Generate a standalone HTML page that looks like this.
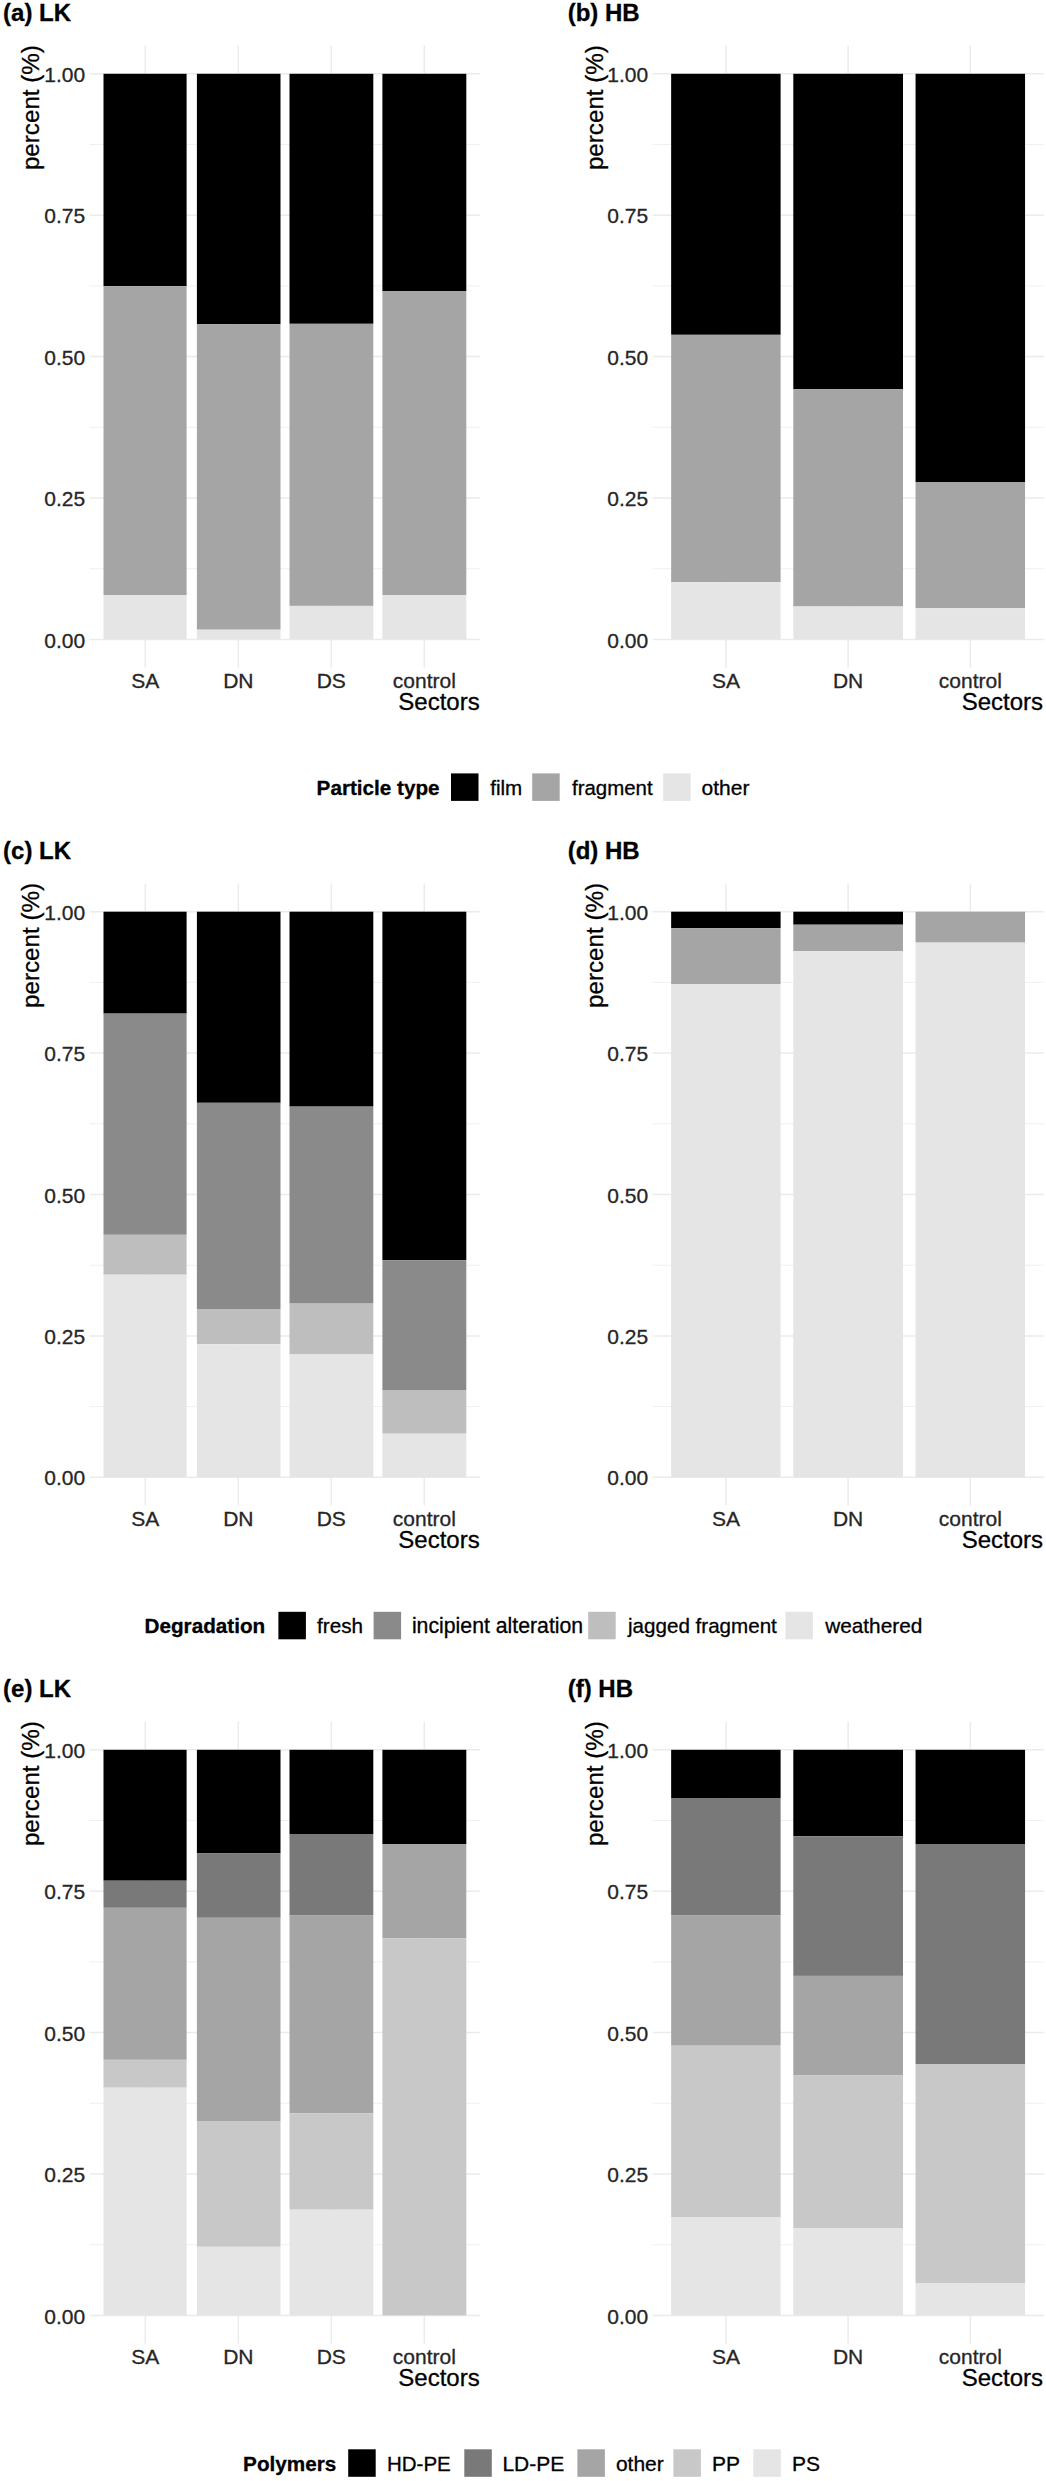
<!DOCTYPE html>
<html lang="en"><head><meta charset="utf-8"><title>Particle type, degradation and polymers by sector</title>
<style>html,body{margin:0;padding:0;background:#fff}body{width:1046px;height:2481px;overflow:hidden}svg{display:block}text{stroke:#000;stroke-width:.3px}text.t{stroke:#262626}</style>
</head><body>
<svg width="1046" height="2481" viewBox="0 0 1046 2481" font-family='"Liberation Sans", sans-serif'>
<rect width="1046" height="2481" fill="#ffffff"/>
<g transform="translate(0,0.0)">
<path d="M89.6 568.70H480.3M89.6 427.30H480.3M89.6 285.90H480.3M89.6 144.50H480.3" stroke="#ebebeb" stroke-width="0.75" fill="none"/>
<path d="M89.6 639.40H480.3M89.6 498.00H480.3M89.6 356.60H480.3M89.6 215.20H480.3M89.6 73.80H480.3M145.30 45.6V667.6M238.30 45.6V667.6M331.30 45.6V667.6M424.30 45.6V667.6" stroke="#ebebeb" stroke-width="1.5" fill="none"/>
<rect x="103.50" y="73.80" width="83.1" height="212.30" fill="#000000"/>
<rect x="103.50" y="286.10" width="83.1" height="309.10" fill="#a5a5a5"/>
<rect x="103.50" y="595.20" width="83.1" height="44.20" fill="#e5e5e5"/>
<rect x="196.90" y="73.80" width="83.6" height="250.50" fill="#000000"/>
<rect x="196.90" y="324.30" width="83.6" height="305.40" fill="#a5a5a5"/>
<rect x="196.90" y="629.70" width="83.6" height="9.70" fill="#e5e5e5"/>
<rect x="289.50" y="73.80" width="83.8" height="250.00" fill="#000000"/>
<rect x="289.50" y="323.80" width="83.8" height="282.10" fill="#a5a5a5"/>
<rect x="289.50" y="605.90" width="83.8" height="33.50" fill="#e5e5e5"/>
<rect x="382.40" y="73.80" width="83.9" height="217.20" fill="#000000"/>
<rect x="382.40" y="291.00" width="83.9" height="304.20" fill="#a5a5a5"/>
<rect x="382.40" y="595.20" width="83.9" height="44.20" fill="#e5e5e5"/>
<text x="85.1" y="647.5" class="t" font-size="21.0" fill="#262626" text-anchor="end">0.00</text>
<text x="85.1" y="506.1" class="t" font-size="21.0" fill="#262626" text-anchor="end">0.25</text>
<text x="85.1" y="364.7" class="t" font-size="21.0" fill="#262626" text-anchor="end">0.50</text>
<text x="85.1" y="223.3" class="t" font-size="21.0" fill="#262626" text-anchor="end">0.75</text>
<text x="85.1" y="81.9" class="t" font-size="21.0" fill="#262626" text-anchor="end">1.00</text>
<text x="145.3" y="688" class="t" font-size="21.0" fill="#262626" text-anchor="middle">SA</text>
<text x="238.3" y="688" class="t" font-size="21.0" fill="#262626" text-anchor="middle">DN</text>
<text x="331.3" y="688" class="t" font-size="21.0" fill="#262626" text-anchor="middle">DS</text>
<text x="424.3" y="688" class="t" font-size="21.0" fill="#262626" text-anchor="middle">control</text>
<text x="479.7" y="710.2" font-size="24" fill="#000" text-anchor="end">Sectors</text>
<text transform="translate(38.8,45.1) rotate(-90)" font-size="24.2" fill="#000" text-anchor="end">percent (%)</text>
<text x="3.1" y="20.7" font-size="24.0" font-weight="bold" fill="#000">(a) LK</text>
</g>
<g transform="translate(0,0.0)">
<path d="M652.7 568.70H1043.6M652.7 427.30H1043.6M652.7 285.90H1043.6M652.7 144.50H1043.6" stroke="#ebebeb" stroke-width="0.75" fill="none"/>
<path d="M652.7 639.40H1043.6M652.7 498.00H1043.6M652.7 356.60H1043.6M652.7 215.20H1043.6M652.7 73.80H1043.6M725.90 45.6V667.6M848.10 45.6V667.6M970.30 45.6V667.6" stroke="#ebebeb" stroke-width="1.5" fill="none"/>
<rect x="671.15" y="73.80" width="109.45" height="261.00" fill="#000000"/>
<rect x="671.15" y="334.80" width="109.45" height="247.30" fill="#a5a5a5"/>
<rect x="671.15" y="582.10" width="109.45" height="57.30" fill="#e5e5e5"/>
<rect x="793.30" y="73.80" width="109.7" height="315.30" fill="#000000"/>
<rect x="793.30" y="389.10" width="109.7" height="217.40" fill="#a5a5a5"/>
<rect x="793.30" y="606.50" width="109.7" height="32.90" fill="#e5e5e5"/>
<rect x="915.55" y="73.80" width="109.5" height="408.20" fill="#000000"/>
<rect x="915.55" y="482.00" width="109.5" height="126.10" fill="#a5a5a5"/>
<rect x="915.55" y="608.10" width="109.5" height="31.30" fill="#e5e5e5"/>
<text x="648.2" y="647.5" class="t" font-size="21.0" fill="#262626" text-anchor="end">0.00</text>
<text x="648.2" y="506.1" class="t" font-size="21.0" fill="#262626" text-anchor="end">0.25</text>
<text x="648.2" y="364.7" class="t" font-size="21.0" fill="#262626" text-anchor="end">0.50</text>
<text x="648.2" y="223.3" class="t" font-size="21.0" fill="#262626" text-anchor="end">0.75</text>
<text x="648.2" y="81.9" class="t" font-size="21.0" fill="#262626" text-anchor="end">1.00</text>
<text x="725.9" y="688" class="t" font-size="21.0" fill="#262626" text-anchor="middle">SA</text>
<text x="848.1" y="688" class="t" font-size="21.0" fill="#262626" text-anchor="middle">DN</text>
<text x="970.3" y="688" class="t" font-size="21.0" fill="#262626" text-anchor="middle">control</text>
<text x="1043.0" y="710.2" font-size="24" fill="#000" text-anchor="end">Sectors</text>
<text transform="translate(603.4,45.1) rotate(-90)" font-size="24.2" fill="#000" text-anchor="end">percent (%)</text>
<text x="567.7" y="20.7" font-size="24.0" font-weight="bold" fill="#000">(b) HB</text>
</g>
<g transform="translate(0,837.9)">
<path d="M89.6 568.70H480.3M89.6 427.30H480.3M89.6 285.90H480.3M89.6 144.50H480.3" stroke="#ebebeb" stroke-width="0.75" fill="none"/>
<path d="M89.6 639.40H480.3M89.6 498.00H480.3M89.6 356.60H480.3M89.6 215.20H480.3M89.6 73.80H480.3M145.30 45.6V667.6M238.30 45.6V667.6M331.30 45.6V667.6M424.30 45.6V667.6" stroke="#ebebeb" stroke-width="1.5" fill="none"/>
<rect x="103.50" y="73.80" width="83.1" height="101.90" fill="#000000"/>
<rect x="103.50" y="175.70" width="83.1" height="221.20" fill="#8a8a8a"/>
<rect x="103.50" y="396.90" width="83.1" height="39.90" fill="#bebebe"/>
<rect x="103.50" y="436.80" width="83.1" height="202.60" fill="#e5e5e5"/>
<rect x="196.90" y="73.80" width="83.6" height="191.10" fill="#000000"/>
<rect x="196.90" y="264.90" width="83.6" height="206.20" fill="#8a8a8a"/>
<rect x="196.90" y="471.10" width="83.6" height="35.20" fill="#bebebe"/>
<rect x="196.90" y="506.30" width="83.6" height="133.10" fill="#e5e5e5"/>
<rect x="289.50" y="73.80" width="83.8" height="194.90" fill="#000000"/>
<rect x="289.50" y="268.70" width="83.8" height="197.00" fill="#8a8a8a"/>
<rect x="289.50" y="465.70" width="83.8" height="50.90" fill="#bebebe"/>
<rect x="289.50" y="516.60" width="83.8" height="122.80" fill="#e5e5e5"/>
<rect x="382.40" y="73.80" width="83.9" height="348.50" fill="#000000"/>
<rect x="382.40" y="422.30" width="83.9" height="129.80" fill="#8a8a8a"/>
<rect x="382.40" y="552.10" width="83.9" height="43.70" fill="#bebebe"/>
<rect x="382.40" y="595.80" width="83.9" height="43.60" fill="#e5e5e5"/>
<text x="85.1" y="647.5" class="t" font-size="21.0" fill="#262626" text-anchor="end">0.00</text>
<text x="85.1" y="506.1" class="t" font-size="21.0" fill="#262626" text-anchor="end">0.25</text>
<text x="85.1" y="364.7" class="t" font-size="21.0" fill="#262626" text-anchor="end">0.50</text>
<text x="85.1" y="223.3" class="t" font-size="21.0" fill="#262626" text-anchor="end">0.75</text>
<text x="85.1" y="81.9" class="t" font-size="21.0" fill="#262626" text-anchor="end">1.00</text>
<text x="145.3" y="688" class="t" font-size="21.0" fill="#262626" text-anchor="middle">SA</text>
<text x="238.3" y="688" class="t" font-size="21.0" fill="#262626" text-anchor="middle">DN</text>
<text x="331.3" y="688" class="t" font-size="21.0" fill="#262626" text-anchor="middle">DS</text>
<text x="424.3" y="688" class="t" font-size="21.0" fill="#262626" text-anchor="middle">control</text>
<text x="479.7" y="710.2" font-size="24" fill="#000" text-anchor="end">Sectors</text>
<text transform="translate(38.8,45.1) rotate(-90)" font-size="24.2" fill="#000" text-anchor="end">percent (%)</text>
<text x="3.1" y="20.7" font-size="24.0" font-weight="bold" fill="#000">(c) LK</text>
</g>
<g transform="translate(0,837.9)">
<path d="M652.7 568.70H1043.6M652.7 427.30H1043.6M652.7 285.90H1043.6M652.7 144.50H1043.6" stroke="#ebebeb" stroke-width="0.75" fill="none"/>
<path d="M652.7 639.40H1043.6M652.7 498.00H1043.6M652.7 356.60H1043.6M652.7 215.20H1043.6M652.7 73.80H1043.6M725.90 45.6V667.6M848.10 45.6V667.6M970.30 45.6V667.6" stroke="#ebebeb" stroke-width="1.5" fill="none"/>
<rect x="671.15" y="73.80" width="109.45" height="16.40" fill="#000000"/>
<rect x="671.15" y="90.20" width="109.45" height="55.90" fill="#a5a5a5"/>
<rect x="671.15" y="146.10" width="109.45" height="493.30" fill="#e5e5e5"/>
<rect x="793.30" y="73.80" width="109.7" height="13.00" fill="#000000"/>
<rect x="793.30" y="86.80" width="109.7" height="26.50" fill="#a5a5a5"/>
<rect x="793.30" y="113.30" width="109.7" height="526.10" fill="#e5e5e5"/>
<rect x="915.55" y="73.80" width="109.5" height="30.90" fill="#a5a5a5"/>
<rect x="915.55" y="104.70" width="109.5" height="534.70" fill="#e5e5e5"/>
<text x="648.2" y="647.5" class="t" font-size="21.0" fill="#262626" text-anchor="end">0.00</text>
<text x="648.2" y="506.1" class="t" font-size="21.0" fill="#262626" text-anchor="end">0.25</text>
<text x="648.2" y="364.7" class="t" font-size="21.0" fill="#262626" text-anchor="end">0.50</text>
<text x="648.2" y="223.3" class="t" font-size="21.0" fill="#262626" text-anchor="end">0.75</text>
<text x="648.2" y="81.9" class="t" font-size="21.0" fill="#262626" text-anchor="end">1.00</text>
<text x="725.9" y="688" class="t" font-size="21.0" fill="#262626" text-anchor="middle">SA</text>
<text x="848.1" y="688" class="t" font-size="21.0" fill="#262626" text-anchor="middle">DN</text>
<text x="970.3" y="688" class="t" font-size="21.0" fill="#262626" text-anchor="middle">control</text>
<text x="1043.0" y="710.2" font-size="24" fill="#000" text-anchor="end">Sectors</text>
<text transform="translate(603.4,45.1) rotate(-90)" font-size="24.2" fill="#000" text-anchor="end">percent (%)</text>
<text x="567.7" y="20.7" font-size="24.0" font-weight="bold" fill="#000">(d) HB</text>
</g>
<g transform="translate(0,1676.0)">
<path d="M89.6 568.70H480.3M89.6 427.30H480.3M89.6 285.90H480.3M89.6 144.50H480.3" stroke="#ebebeb" stroke-width="0.75" fill="none"/>
<path d="M89.6 639.40H480.3M89.6 498.00H480.3M89.6 356.60H480.3M89.6 215.20H480.3M89.6 73.80H480.3M145.30 45.6V667.6M238.30 45.6V667.6M331.30 45.6V667.6M424.30 45.6V667.6" stroke="#ebebeb" stroke-width="1.5" fill="none"/>
<rect x="103.50" y="73.80" width="83.1" height="130.90" fill="#000000"/>
<rect x="103.50" y="204.70" width="83.1" height="27.10" fill="#797979"/>
<rect x="103.50" y="231.80" width="83.1" height="152.00" fill="#a5a5a5"/>
<rect x="103.50" y="383.80" width="83.1" height="27.90" fill="#c8c8c8"/>
<rect x="103.50" y="411.70" width="83.1" height="227.70" fill="#e5e5e5"/>
<rect x="196.90" y="73.80" width="83.6" height="103.30" fill="#000000"/>
<rect x="196.90" y="177.10" width="83.6" height="64.70" fill="#797979"/>
<rect x="196.90" y="241.80" width="83.6" height="203.20" fill="#a5a5a5"/>
<rect x="196.90" y="445.00" width="83.6" height="125.80" fill="#c8c8c8"/>
<rect x="196.90" y="570.80" width="83.6" height="68.60" fill="#e5e5e5"/>
<rect x="289.50" y="73.80" width="83.8" height="84.20" fill="#000000"/>
<rect x="289.50" y="158.00" width="83.8" height="81.10" fill="#797979"/>
<rect x="289.50" y="239.10" width="83.8" height="198.30" fill="#a5a5a5"/>
<rect x="289.50" y="437.40" width="83.8" height="96.30" fill="#c8c8c8"/>
<rect x="289.50" y="533.70" width="83.8" height="105.70" fill="#e5e5e5"/>
<rect x="382.40" y="73.80" width="83.9" height="94.20" fill="#000000"/>
<rect x="382.40" y="168.00" width="83.9" height="94.40" fill="#a5a5a5"/>
<rect x="382.40" y="262.40" width="83.9" height="377.00" fill="#c8c8c8"/>
<text x="85.1" y="647.5" class="t" font-size="21.0" fill="#262626" text-anchor="end">0.00</text>
<text x="85.1" y="506.1" class="t" font-size="21.0" fill="#262626" text-anchor="end">0.25</text>
<text x="85.1" y="364.7" class="t" font-size="21.0" fill="#262626" text-anchor="end">0.50</text>
<text x="85.1" y="223.3" class="t" font-size="21.0" fill="#262626" text-anchor="end">0.75</text>
<text x="85.1" y="81.9" class="t" font-size="21.0" fill="#262626" text-anchor="end">1.00</text>
<text x="145.3" y="688" class="t" font-size="21.0" fill="#262626" text-anchor="middle">SA</text>
<text x="238.3" y="688" class="t" font-size="21.0" fill="#262626" text-anchor="middle">DN</text>
<text x="331.3" y="688" class="t" font-size="21.0" fill="#262626" text-anchor="middle">DS</text>
<text x="424.3" y="688" class="t" font-size="21.0" fill="#262626" text-anchor="middle">control</text>
<text x="479.7" y="710.2" font-size="24" fill="#000" text-anchor="end">Sectors</text>
<text transform="translate(38.8,45.1) rotate(-90)" font-size="24.2" fill="#000" text-anchor="end">percent (%)</text>
<text x="3.1" y="20.7" font-size="24.0" font-weight="bold" fill="#000">(e) LK</text>
</g>
<g transform="translate(0,1676.0)">
<path d="M652.7 568.70H1043.6M652.7 427.30H1043.6M652.7 285.90H1043.6M652.7 144.50H1043.6" stroke="#ebebeb" stroke-width="0.75" fill="none"/>
<path d="M652.7 639.40H1043.6M652.7 498.00H1043.6M652.7 356.60H1043.6M652.7 215.20H1043.6M652.7 73.80H1043.6M725.90 45.6V667.6M848.10 45.6V667.6M970.30 45.6V667.6" stroke="#ebebeb" stroke-width="1.5" fill="none"/>
<rect x="671.15" y="73.80" width="109.45" height="48.70" fill="#000000"/>
<rect x="671.15" y="122.50" width="109.45" height="116.60" fill="#797979"/>
<rect x="671.15" y="239.10" width="109.45" height="130.60" fill="#a5a5a5"/>
<rect x="671.15" y="369.70" width="109.45" height="171.70" fill="#c8c8c8"/>
<rect x="671.15" y="541.40" width="109.45" height="98.00" fill="#e5e5e5"/>
<rect x="793.30" y="73.80" width="109.7" height="86.50" fill="#000000"/>
<rect x="793.30" y="160.30" width="109.7" height="139.60" fill="#797979"/>
<rect x="793.30" y="299.90" width="109.7" height="99.60" fill="#a5a5a5"/>
<rect x="793.30" y="399.50" width="109.7" height="152.60" fill="#c8c8c8"/>
<rect x="793.30" y="552.10" width="109.7" height="87.30" fill="#e5e5e5"/>
<rect x="915.55" y="73.80" width="109.5" height="94.20" fill="#000000"/>
<rect x="915.55" y="168.00" width="109.5" height="220.00" fill="#797979"/>
<rect x="915.55" y="388.00" width="109.5" height="219.50" fill="#c8c8c8"/>
<rect x="915.55" y="607.50" width="109.5" height="31.90" fill="#e5e5e5"/>
<text x="648.2" y="647.5" class="t" font-size="21.0" fill="#262626" text-anchor="end">0.00</text>
<text x="648.2" y="506.1" class="t" font-size="21.0" fill="#262626" text-anchor="end">0.25</text>
<text x="648.2" y="364.7" class="t" font-size="21.0" fill="#262626" text-anchor="end">0.50</text>
<text x="648.2" y="223.3" class="t" font-size="21.0" fill="#262626" text-anchor="end">0.75</text>
<text x="648.2" y="81.9" class="t" font-size="21.0" fill="#262626" text-anchor="end">1.00</text>
<text x="725.9" y="688" class="t" font-size="21.0" fill="#262626" text-anchor="middle">SA</text>
<text x="848.1" y="688" class="t" font-size="21.0" fill="#262626" text-anchor="middle">DN</text>
<text x="970.3" y="688" class="t" font-size="21.0" fill="#262626" text-anchor="middle">control</text>
<text x="1043.0" y="710.2" font-size="24" fill="#000" text-anchor="end">Sectors</text>
<text transform="translate(603.4,45.1) rotate(-90)" font-size="24.2" fill="#000" text-anchor="end">percent (%)</text>
<text x="567.7" y="20.7" font-size="24.0" font-weight="bold" fill="#000">(f) HB</text>
</g>
<g transform="translate(0,0.0)">
<text x="316.6" y="795.1" font-size="20.7" font-weight="bold" fill="#000">Particle type</text>
<rect x="451.0" y="773.4" width="27.5" height="27.5" fill="#000000"/>
<text x="490.2" y="795.1" font-size="20.6" fill="#000">film</text>
<rect x="532.2" y="773.4" width="27.5" height="27.5" fill="#a5a5a5"/>
<text x="572.0" y="795.1" font-size="20.45" fill="#000">fragment</text>
<rect x="663.2" y="773.4" width="27.5" height="27.5" fill="#e5e5e5"/>
<text x="701.6" y="795.1" font-size="21.0" fill="#000">other</text>
</g>
<g transform="translate(0,838.4)">
<text x="144.5" y="795.1" font-size="20.7" font-weight="bold" fill="#000">Degradation</text>
<rect x="278.4" y="773.4" width="27.5" height="27.5" fill="#000000"/>
<text x="317.1" y="795.1" font-size="20.7" fill="#000">fresh</text>
<rect x="373.6" y="773.4" width="27.5" height="27.5" fill="#8a8a8a"/>
<text x="411.9" y="795.1" font-size="21.25" fill="#000">incipient alteration</text>
<rect x="588.2" y="773.4" width="27.5" height="27.5" fill="#bebebe"/>
<text x="628.0" y="795.1" font-size="20.6" fill="#000">jagged fragment</text>
<rect x="785.4" y="773.4" width="27.5" height="27.5" fill="#e5e5e5"/>
<text x="825.2" y="795.1" font-size="20.8" fill="#000">weathered</text>
</g>
<g transform="translate(0,1675.9)">
<text x="243.1" y="795.1" font-size="20.7" font-weight="bold" fill="#000">Polymers</text>
<rect x="348.2" y="773.4" width="27.5" height="27.5" fill="#000000"/>
<text x="387.0" y="795.1" font-size="20.5" fill="#000">HD-PE</text>
<rect x="464.3" y="773.4" width="27.5" height="27.5" fill="#797979"/>
<text x="502.4" y="795.1" font-size="21.0" fill="#000">LD-PE</text>
<rect x="577.4" y="773.4" width="27.5" height="27.5" fill="#a5a5a5"/>
<text x="615.9" y="795.1" font-size="21.0" fill="#000">other</text>
<rect x="673.4" y="773.4" width="27.5" height="27.5" fill="#c8c8c8"/>
<text x="712.0" y="795.1" font-size="21.0" fill="#000">PP</text>
<rect x="753.3" y="773.4" width="27.5" height="27.5" fill="#e5e5e5"/>
<text x="792.0" y="795.1" font-size="21.0" fill="#000">PS</text>
</g>
</svg>
</body></html>
